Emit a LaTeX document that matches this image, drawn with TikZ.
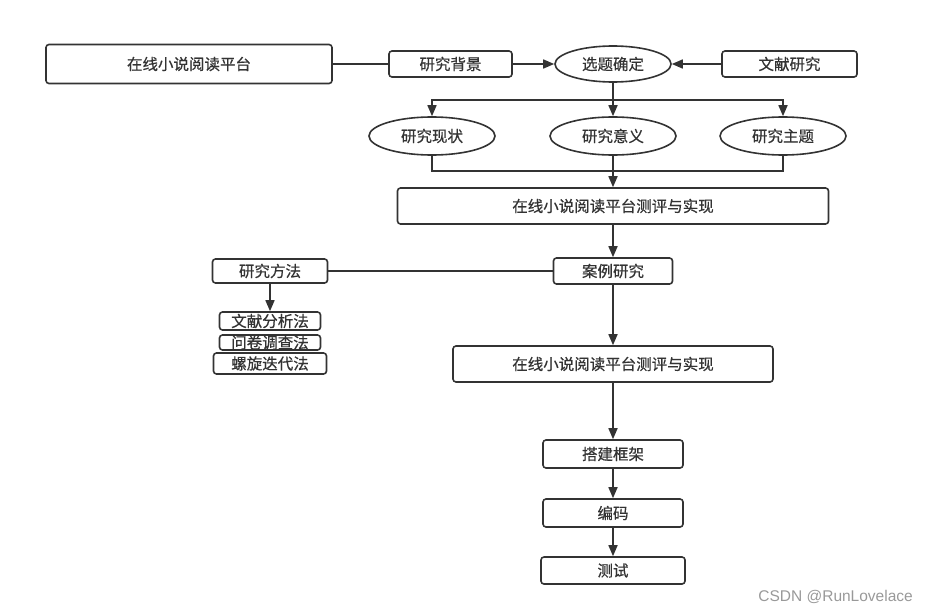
\documentclass[tikz,border=0pt]{standalone}
\usepackage{fontspec}
\setmainfont{Noto Sans CJK SC}[FakeBold=0.6]
\newfontfamily\markfont{Liberation Sans}
\usetikzlibrary{arrows.meta,shapes.geometric}
\definecolor{linegray}{HTML}{333333}
\tikzset{
  box/.style={draw=linegray, line width=1.6pt, rounded corners=3pt, inner sep=0pt,
    font=\fontsize{15.5}{17}\selectfont, text=linegray},
  oval/.style={ellipse, draw=linegray, line width=1.6pt, inner sep=0pt,
    minimum width=126pt, minimum height=38pt, font=\fontsize{15.5}{17}\selectfont, text=linegray},
  link/.style={draw=linegray, line width=1.6pt},
  flow/.style={link, -{Triangle[length=11pt,width=9pt]}}
}
\begin{document}
\begin{tikzpicture}[x=1pt,y=-1pt]
\useasboundingbox (0,0) rectangle (928,613);
\node[box, minimum width=286pt, minimum height=39pt] (platform) at (189,64){在线小说阅读平台};
\node[box, minimum width=123pt, minimum height=26pt] (background) at (450.5,64){研究背景};
\node[oval, minimum width=116pt, minimum height=36pt] (topic) at (613,64){选题确定};
\node[box, minimum width=135pt, minimum height=26pt] (literature) at (789.5,64){文献研究};
\draw[link](platform.east) -- (background.west);
\draw[flow](background.east) -- (topic.west);
\draw[flow](literature.west) -- (topic.east);
\node[oval] (status) at (432,136){研究现状};
\node[oval] (meaning) at (613,136){研究意义};
\node[oval] (theme) at (783,136){研究主题};
\coordinate (split) at (613,100);
\coordinate (merge) at (613,171);
\draw[flow](topic.south) -- (meaning.north);
\draw[flow](split) -| (status.north);
\draw[flow](split) -| (theme.north);
\node[box, minimum width=431pt, minimum height=36pt] (evalA) at (613,206){在线小说阅读平台测评与实现};
\draw[link](status.south) |- (merge);
\draw[link](theme.south) |- (merge);
\draw[flow](meaning.south) -- (evalA.north);
\node[box, minimum width=119pt, minimum height=26pt] (case) at (613,271){案例研究};
\draw[flow](evalA.south) -- (case.north);
\node[box, minimum width=115pt, minimum height=24pt] (method) at (270,271){研究方法};
\draw[link](method.east) -- (case.west);
\node[box, minimum width=101pt, minimum height=18pt] (m1) at (270,321){文献分析法};
\node[box, minimum width=101pt, minimum height=15pt] (m2) at (270,342.5){问卷调查法};
\node[box, minimum width=113pt, minimum height=21pt] (m3) at (270,363.5){螺旋迭代法};
\draw[flow](method.south) -- (m1.north);
\node[box, minimum width=320pt, minimum height=36pt] (evalB) at (613,364){在线小说阅读平台测评与实现};
\draw[flow](case.south) -- (evalB.north);
\node[box, minimum width=140pt, minimum height=28pt] (frame) at (613,454){搭建框架};
\node[box, minimum width=140pt, minimum height=28pt] (coding) at (613,513){编码};
\node[box, minimum width=144pt, minimum height=27pt] (testing) at (613,570.5){测试};
\draw[flow](evalB.south) -- (frame.north);
\draw[flow](frame.south) -- (coding.north);
\draw[flow](coding.south) -- (testing.north);
\node[anchor=east, inner sep=0pt, text=black!40, font=\markfont\fontsize{15.5}{17}\selectfont] (mark) at (913,597){CSDN @RunLovelace};

\end{tikzpicture}
\end{document}
